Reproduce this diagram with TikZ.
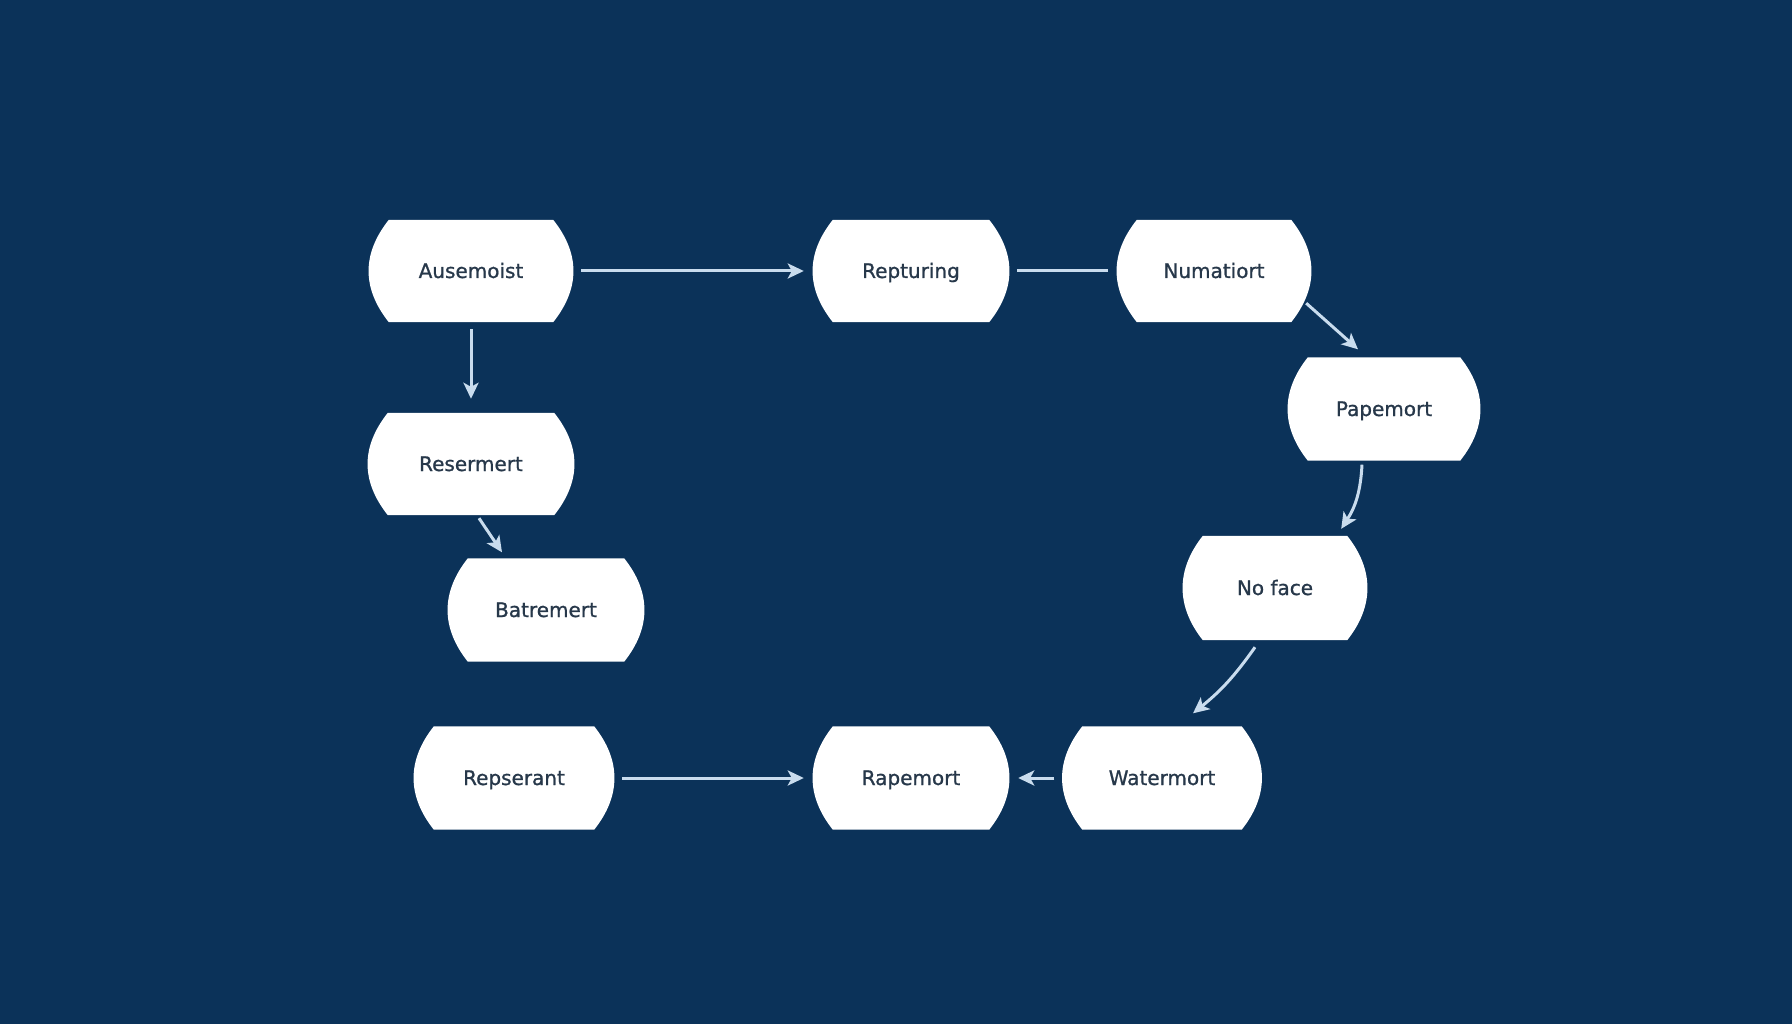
\documentclass[tikz,border=0pt]{standalone}
\usepackage{fontspec}
\setmainfont{DejaVu Sans}[FakeBold=1]
\usetikzlibrary{arrows.meta,backgrounds}
\definecolor{navy}{HTML}{0B3259}
\definecolor{linkblue}{HTML}{C9DCEE}
\definecolor{labelgrey}{HTML}{27384A}

\begin{document}
\begin{tikzpicture}[
		x=1pt, y=-1pt,
		every node/.style={rectangle, minimum width=156pt, minimum height=102pt, inner sep=0pt,
			text height=16pt, text depth=2pt, text=labelgrey, font=\fontsize{20}{22}\selectfont},
		link/.style={draw=linkblue, line width=3pt, -{Stealth[length=16pt,width=15pt,inset=4pt]}},
		gap/.style={shorten <=28pt, shorten >=29pt}
		]
		\useasboundingbox (0,0) rectangle (1792,1024);
		% top row
		\node (Ausemoist) at (471,271) [minimum width=164pt] {Ausemoist};
		\node (Repturing) at (911,271) {Repturing};
		\node (Numatiort) at (1214,271) [minimum width=154pt] {Numatiort};
		% right side
		\node (Papemort) at (1384,409) [minimum width=152pt, minimum height=103pt] {Papemort};
		\node (Noface) at (1275,588) [minimum width=144pt, minimum height=104pt] {No face};
		% left side
		\node (Resermert) at (471,464) [minimum width=166pt] {Resermert};
		\node (Batremert) at (546,610) [minimum height=103pt] {Batremert};
		% bottom row
		\node (Repserant) at (514,778) [minimum width=160pt, minimum height=103pt] {Repserant};
		\node (Rapemort) at (911,778) [minimum height=103pt] {Rapemort};
		\node (Watermort) at (1162,778) [minimum width=159pt, minimum height=103pt] {Watermort};

		\begin{scope}[on background layer]
			\fill[navy] (0,0) rectangle (1792,1024);
			\foreach \n in {Ausemoist,Repturing,Numatiort,Papemort,Noface,Resermert,Batremert,Repserant,Rapemort,Watermort}
				\fill[white] (\n.north west) -- (\n.north east)
					.. controls +(27,34) and +(27,-34) .. (\n.south east) -- (\n.south west)
					.. controls +(-27,-34) and +(-27,34) .. (\n.north west);
		\end{scope}

		\draw[link, gap] (Ausemoist) -- (Repturing);
		\draw[link, gap, -] (Repturing) -- (Numatiort);
		\draw[link] ([xshift=15pt,yshift=19pt]Numatiort.south east) -- ([xshift=-26pt,yshift=8pt]Papemort.north);
		\draw[link] ([xshift=-22pt,yshift=-4pt]Papemort.south) to[bend left=15] ([xshift=-6pt,yshift=7pt]Noface.north east);
		\draw[link] ([xshift=-20pt,yshift=-7pt]Noface.south) to[bend left=8] ([xshift=31pt,yshift=13pt]Watermort.north);
		\draw[link, gap] (Watermort) -- (Rapemort);
		\draw[link, gap] (Repserant) -- (Rapemort);
		\draw[link] ([yshift=-7pt]Ausemoist.south) -- ([yshift=14pt]Resermert.north);
		\draw[link] ([xshift=8pt,yshift=-3pt]Resermert.south) -- ([xshift=-44pt,yshift=6pt]Batremert.north);
	\end{tikzpicture}
\end{document}
